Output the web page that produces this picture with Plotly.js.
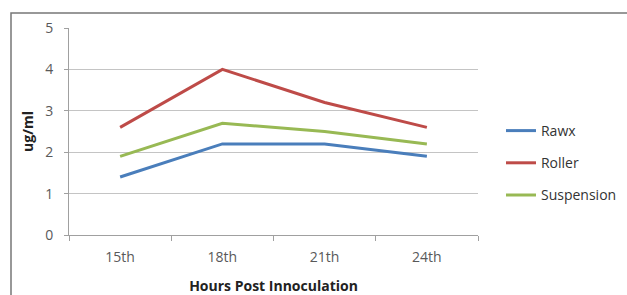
<!DOCTYPE html>
<html><head><meta charset="utf-8">
<script src="https://cdn.plot.ly/plotly-3.0.1.min.js"></script>
<style>html,body{margin:0;padding:0;background:#fff;}#chart{width:627px;height:295px;}</style>
</head><body><div id="chart"></div>
<script>
const categories = ["15th", "18th", "21th", "24th"];
const rawx = [1.4, 2.2, 2.2, 1.9];
const roller = [2.6, 4.0, 3.2, 2.6];
const suspension = [1.9, 2.7, 2.5, 2.2];
const seriesNames = ["Rawx", "Roller", "Suspension"];
const colors = ["#4a7ebb", "#be4b48", "#98b954"];
const values = [rawx, roller, suspension];

const traces = values.map((v, i) => ({
  x: categories, y: v, type: "scatter", mode: "lines", name: seriesNames[i],
  legendgroup: "g" + i,
  line: {color: colors[i], width: 3}
}));

const layout = {
  width: 627, height: 295,
  margin: {l: 69, r: 149, t: 28, b: 60, autoexpand: false},
  paper_bgcolor: "#fff", plot_bgcolor: "#fff",
  font: {family: "Open Sans, Liberation Sans, sans-serif", color: "#595959", size: 14},
  xaxis: {
    type: "category", range: [-0.5, 3.5], tickson: "boundaries",
    ticks: "outside", ticklen: 5, tickcolor: "#a0a0a0",
    showline: true, linecolor: "#a0a0a0", linewidth: 1, showgrid: false,
    ticklabelstandoff: 9,
    tickfont: {size: 14, color: "#595959"},
    title: {text: "<b>Hours Post Innoculation</b>", font: {size: 14, color: "#222"}, standoff: 16}
  },
  yaxis: {
    range: [0, 5], dtick: 1, ticks: "outside", ticklen: 4, tickcolor: "#a0a0a0",
    showline: true, linecolor: "#a0a0a0", linewidth: 1,
    gridcolor: "#c4c4c4", gridwidth: 1, zeroline: false,
    ticklabelstandoff: 8,
    tickfont: {size: 14, color: "#595959"},
    title: {text: "<b>ug/ml</b>", font: {size: 14, color: "#222"}, standoff: 8}
  },
  legend: {
    xref: "container", yref: "container",
    x: 0.799, y: (295 - 163) / 295, xanchor: "left", yanchor: "middle",
    font: {size: 14, color: "#333"}, tracegroupgap: 11,
    itemwidth: 30, bgcolor: "rgba(0,0,0,0)"
  },
  shapes: [{
    type: "rect", xref: "paper", yref: "paper",
    x0: -0.1418, x1: 2, y0: -0.5, y1: 1.0725,
    line: {color: "#777", width: 1.5}, fillcolor: "rgba(0,0,0,0)", layer: "below"
  }]
};

Plotly.newPlot("chart", traces, layout, {displayModeBar: false, staticPlot: true});
</script></body></html>
